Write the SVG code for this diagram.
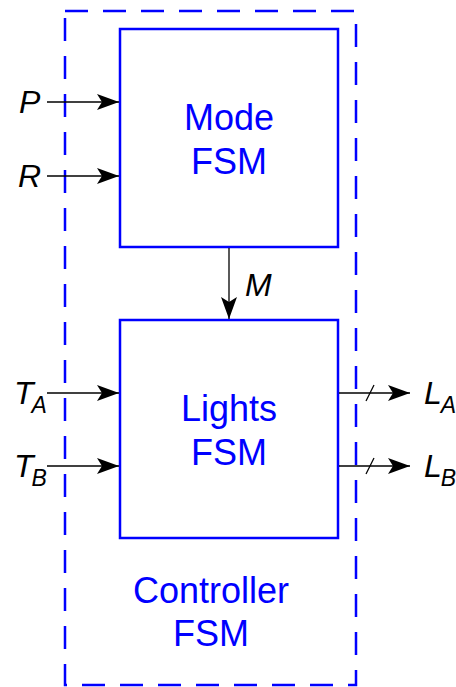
<svg xmlns="http://www.w3.org/2000/svg" width="456" height="687" viewBox="0 0 456 687">
<style>
.box{fill:none;stroke:#0000ff;stroke-width:2.5}
.dash{fill:none;stroke:#0000ff;stroke-width:2.5;stroke-dasharray:23 15}
.w{stroke:#000;stroke-width:1.3;fill:none}
.t{font-family:"Liberation Sans",Arial,sans-serif;font-size:36px;fill:#0000ff;text-anchor:middle}
.l{font-family:"Liberation Sans",Arial,sans-serif;font-size:32px;font-style:italic;fill:#000}
.s{font-size:23px}
</style>
<defs>
<marker id="ah" markerWidth="22" markerHeight="16" refX="22" refY="8" orient="auto" markerUnits="userSpaceOnUse">
<path d="M0,0 L22,8 L0,16 L5,8 Z" fill="#000"/>
</marker>
</defs>
<g id="controller">
<rect class="dash" x="65" y="11" width="291" height="674"/>
<text class="t" x="211" y="603">Controller</text>
<text class="t" x="211" y="646">FSM</text>
</g>
<g id="mode">
<rect class="box" x="120" y="29" width="218" height="218"/>
<text class="t" x="229" y="130">Mode</text>
<text class="t" x="229" y="174">FSM</text>
</g>
<g id="lights">
<rect class="box" x="120" y="320" width="218" height="218"/>
<text class="t" x="229" y="421">Lights</text>
<text class="t" x="229" y="465">FSM</text>
</g>
<g id="connectors">
<line class="w" x1="47" y1="102" x2="119" y2="102" marker-end="url(#ah)"/>
<line class="w" x1="47" y1="176" x2="119" y2="176" marker-end="url(#ah)"/>
<line class="w" x1="47" y1="393" x2="119" y2="393" marker-end="url(#ah)"/>
<line class="w" x1="47" y1="466" x2="119" y2="466" marker-end="url(#ah)"/>
<line class="w" x1="229" y1="248" x2="229" y2="319" marker-end="url(#ah)"/>
<line class="w" x1="339" y1="393" x2="410" y2="393" marker-end="url(#ah)"/>
<line class="w" x1="339" y1="466" x2="410" y2="466" marker-end="url(#ah)"/>
<line class="w" x1="366" y1="401" x2="374" y2="385"/>
<line class="w" x1="366" y1="474" x2="374" y2="458"/>
</g>
<g id="labels">
<text class="l" x="19" y="113">P</text>
<text class="l" x="18" y="187">R</text>
<text class="l" x="14" y="404">T<tspan class="s" dy="9" dx="-2">A</tspan></text>
<text class="l" x="14" y="477">T<tspan class="s" dy="9" dx="-2">B</tspan></text>
<text class="l" x="245" y="296">M</text>
<text class="l" x="424" y="404">L<tspan class="s" dy="9" dx="-1">A</tspan></text>
<text class="l" x="424" y="477">L<tspan class="s" dy="9" dx="-1">B</tspan></text>
</g>
</svg>
